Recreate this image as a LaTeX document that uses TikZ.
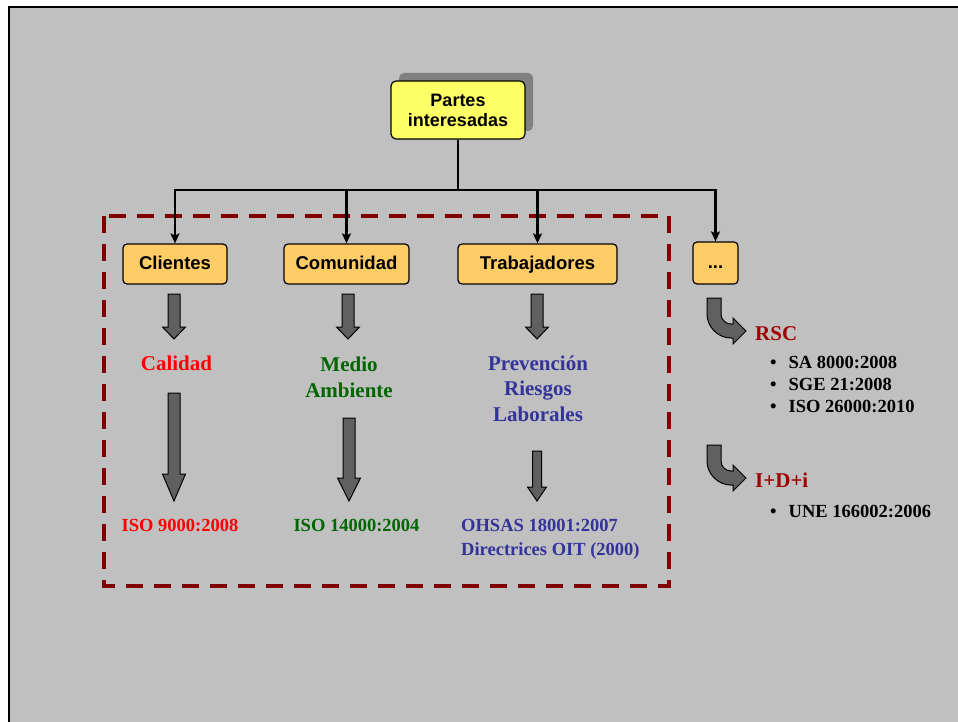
\documentclass[tikz,border=0pt]{standalone}
\usepackage{fontspec}
\setmainfont{Liberation Serif}
\setsansfont{Liberation Sans}
\usetikzlibrary{arrows.meta,calc}
\definecolor{bgc}{HTML}{C0C0C0}
\definecolor{shadowc}{HTML}{808080}
\definecolor{yellowc}{HTML}{FFFF66}
\definecolor{orangec}{HTML}{FFCC66}
\definecolor{arrowc}{HTML}{606060}
\definecolor{framec}{HTML}{800000}
\definecolor{redc}{HTML}{FF0000}
\definecolor{greenc}{HTML}{006600}
\definecolor{bluec}{HTML}{333399}
\definecolor{darkredc}{HTML}{A00000}
\newcommand\blockdown[6]{% x, top, headstart, tip, shaft half width, head half width
  \filldraw[blockarr] (#1-#5,#2) -- (#1+#5,#2) -- (#1+#5,#3) -- (#1+#6,#3) -- (#1,#4) -- (#1-#6,#3) -- (#1-#5,#3) -- cycle;}
\newcommand\curvedarr[1]{%
  \filldraw[blockarr, shift={(0,#1)}] (707,298) -- (707,314) .. controls (707,327) and (718,338) .. (731,338)
     -- (733,338) -- (733,344) -- (746,331) -- (733,318) -- (733,324) -- (731,324)
     .. controls (725.5,324) and (721,319.5) .. (721,314) -- (721,298) -- cycle;}
\begin{document}
\begin{tikzpicture}[x=1pt,y=-1pt,
  topbox/.style={draw=black, line width=1.2pt, fill=yellowc, rounded corners=5pt, inner sep=0pt,
     minimum width=134pt, minimum height=58pt, align=center,
     font=\sffamily\bfseries\fontsize{18}{20}\selectfont},
  catbox/.style={draw=black, line width=1.2pt, fill=orangec, rounded corners=4pt, inner sep=0pt,
     minimum height=40pt, text height=13pt, text depth=2pt,
     font=\sffamily\bfseries\fontsize{18.5}{21}\selectfont},
  conn/.style={line width=2.4pt, draw=black, -{Stealth[length=10pt,width=9pt,inset=2pt]}},
  blockarr/.style={fill=arrowc, draw=black, line width=1pt},
  bigtext/.style={font=\rmfamily\bfseries\fontsize{21}{25.5}\selectfont, inner sep=0pt, align=center},
  smalltext/.style={font=\rmfamily\bfseries\fontsize{18.5}{24}\selectfont, inner sep=0pt},
  itemtext/.style={font=\rmfamily\bfseries\fontsize{18.5}{22}\selectfont, inner sep=0pt, anchor=base west},
  dashframe/.style={draw=framec, line width=4pt, dash pattern=on 17pt off 11pt}
]
\useasboundingbox (0,0) rectangle (958,722);
\clip (0,0) rectangle (958,722);
\filldraw[fill=bgc, draw=black, line width=2pt] (9,7) rectangle (975,740);

% dashed frame
\draw[dashframe] (104,216) rectangle (669,586);

% top node with shadow
\fill[shadowc, rounded corners=5pt] (399,73) rectangle (533,131);
\node[topbox] (top) at (458,110) {Partes\\interesadas};

% category boxes
\node[catbox, minimum width=104pt] (cli) at (175,264) {Clientes};
\node[catbox, minimum width=125pt] (com) at (346.5,264) {Comunidad};
\node[catbox, minimum width=159pt] (tra) at (537.5,264) {Trabajadores};
\node[catbox, minimum width=45pt, minimum height=42pt] (dots) at (715.5,263) {...};

% connectors
\coordinate (bus) at (458,190);
\draw[line width=2.4pt] (top.south) -- (bus);
\draw[conn] (bus) -| (cli.north);
\draw[conn] (bus) -| (com.north);
\draw[conn] (bus) -| (tra.north);
\draw[conn] (bus) -| (dots.north);

% short block arrows
\blockdown{174}{294}{327}{339}{6}{11.5}
\blockdown{348}{294}{327}{339}{6}{11.5}
\blockdown{537}{294}{327}{339}{6}{11.5}

% second-level texts
\node[bigtext, text=redc, anchor=base] (cal) at (176.5,370) {Calidad};
\node[bigtext, text=greenc, anchor=base] (med) at (349,397) {Medio\\Ambiente};
\node[bigtext, text=bluec, anchor=base] (pre) at (538,421) {Prevención\\Riesgos\\Laborales};

% long block arrows
\blockdown{174}{393}{474}{501}{6}{11.5}
\blockdown{349}{418}{478}{501}{6}{11.5}
\blockdown{537}{451}{487}{501}{4.5}{9.5}

% standards
\node[smalltext, text=redc, anchor=base] (iso9) at (180,531) {ISO 9000:2008};
\node[smalltext, text=greenc, anchor=base] (iso14) at (356.5,531) {ISO 14000:2004};
\node[smalltext, text=bluec, anchor=base west, align=left] (ohs) at (461,555) {OHSAS 18001:2007\\Directrices OIT (2000)};

% right side
\curvedarr{0}
\curvedarr{147}
\node[bigtext, text=darkredc, anchor=base west] (rsc) at (755,340) {RSC};
\node[itemtext] (i1) at (770,368) {\makebox[18.5pt][l]{\textbullet}SA 8000:2008};
\node[itemtext] (i2) at (770,390) {\makebox[18.5pt][l]{\textbullet}SGE 21:2008};
\node[itemtext] (i3) at (770,412) {\makebox[18.5pt][l]{\textbullet}ISO 26000:2010};
\node[bigtext, text=darkredc, anchor=base west] (idi) at (755,487) {I+D+i};
\node[itemtext] (i4) at (770,517) {\makebox[18.5pt][l]{\textbullet}UNE 166002:2006};
\end{tikzpicture}
\end{document}
